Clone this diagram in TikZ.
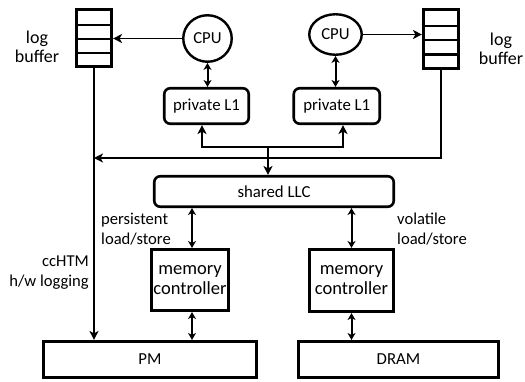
\documentclass[tikz,border=0pt]{standalone}
\usepackage{fontspec}
\setmainfont{Carlito}
\usetikzlibrary{arrows.meta,shapes.geometric,calc}
% two-line text blocks whose baseline is the first line
\newcommand{\linesL}[2]{\vtop{\halign{##\hfil\cr #1\cr #2\cr}}}
\newcommand{\linesR}[2]{\vtop{\halign{\hfil##\cr #1\cr #2\cr}}}
\newcommand{\linesC}[2]{\vtop{\halign{\hfil##\hfil\cr #1\cr #2\cr}}}
\newcommand{\tightlines}{\lineskiplimit-100pt\relax}
\begin{document}
\begin{tikzpicture}[x=1pt,y=-1pt,
  txt/.style={font=\fontsize{16.8}{19.5}\selectfont},
  box/.style={draw,line width=2.6pt,inner sep=0,txt},
  rbox/.style={box,rounded corners=6pt},
  mcbox/.style={box,font=\fontsize{18.5}{20}\selectfont\tightlines},
  buf/.style={draw,line width=2.6pt,inner sep=0,minimum width=35.5pt},
  cpu/.style={ellipse,draw,line width=2.4pt,inner sep=0,txt},
  lbl/.style={inner sep=0,font=\fontsize{16.6}{19.5}\selectfont\tightlines},
  biglbl/.style={inner sep=0,font=\fontsize{18}{18.5}\selectfont\tightlines},
  tip/.style={-{Stealth[length=9pt,width=9pt,inset=2.5pt]}},
  both/.style={{Stealth[length=7pt,width=8pt,inset=2pt]}-{Stealth[length=7pt,width=8pt,inset=2pt]},line width=2pt},
]
\useasboundingbox (0,0) rectangle (525,382);

% log buffers
\node[buf,minimum height=57.5pt] (lbuf) at (94,38) {};
\node[buf,minimum height=59.5pt] (rbuf) at (441,39) {};
\foreach \b in {lbuf,rbuf}
  \foreach \f in {0.29,0.52,0.75}
    \draw[line width=2.2pt] ($(\b.north west)!\f!(\b.south west)$) -- ($(\b.north east)!\f!(\b.south east)$);

% cores and caches
\node[cpu,minimum width=48.5pt,minimum height=46.5pt] (cpu1) at (207.5,38.5) {CPU};
\node[cpu,minimum width=52.5pt,minimum height=40.5pt] (cpu2) at (335.5,34.5) {CPU};
\node[rbox,minimum width=84.5pt,minimum height=35.5pt] (l1a) at (206.5,106) {private L1};
\node[rbox,minimum width=86pt,minimum height=35.5pt] (l1b) at (336.75,106) {private L1};
\node[rbox,minimum width=239.5pt,minimum height=30.5pt] (llc) at (274,191.5) {shared LLC};

% memory side
\node[mcbox,minimum width=77.5pt,minimum height=61.5pt] (mc1) at (190,280) {\linesC{memory}{controller}};
\node[mcbox,minimum width=84.5pt,minimum height=62.5pt] (mc2) at (351.5,280.5) {\linesC{memory}{controller}};
\node[box,minimum width=213.5pt,minimum height=36.5pt] (pm) at (150,359.5) {PM};
\node[box,minimum width=200.5pt,minimum height=36.5pt] (dram) at (398.5,359.5) {DRAM};

% labels
\node[biglbl,anchor=base] (lbtxt) at (37,44) {\linesC{log}{buffer}};
\node[biglbl,anchor=base] (rbtxt) at (501,46) {\linesC{log}{buffer}};
\node[lbl,anchor=base west] (ptxt) at (101,225) {\linesL{persistent}{load/store}};
\node[lbl,anchor=base west] (vtxt) at (397,225) {\linesL{volatile}{load/store}};
\node[lbl,anchor=base east] (htxt) at (89,267) {\linesR{ccHTM}{h/w logging}};

% junction points
\coordinate (j) at (268,147);
\coordinate (bus) at (268,158);

% CPU writes to its log buffer
\draw[tip,line width=1.5pt] (cpu1.west) -- (cpu1.west -| lbuf.east);
\draw[tip,line width=1.5pt] (cpu2.east) -- (cpu2.east -| rbuf.west);
\draw[both] (cpu1.south) -- (cpu1.south |- l1a.north);
\draw[both] (cpu2.south) -- (cpu2.south |- l1b.north);

% log path to PM
\draw[tip,line width=2.2pt] (rbuf.south) |- (lbuf.south |- bus);
\draw[tip,line width=1.3pt] (lbuf.south) -- (lbuf.south |- pm.north);

% L1 <-> LLC
\draw[tip,line width=1.6pt] (j) -| ([xshift=-4.5pt]l1a.south);
\draw[tip,line width=1.6pt] (j) -| ([xshift=6.25pt]l1b.south);
\draw[tip,line width=1.6pt] (j) -- (j |- llc.north);

% LLC <-> controllers <-> memories
\draw[both] ([xshift=2pt]mc1.north |- llc.south) -- ([xshift=2pt]mc1.north);
\draw[both] ([xshift=2pt]mc1.south) -- ([xshift=2pt]mc1.south |- pm.north);
\draw[both] (mc2.north |- llc.south) -- (mc2.north);
\draw[both] (mc2.south) -- (mc2.south |- dram.north);
\end{tikzpicture}
\end{document}
